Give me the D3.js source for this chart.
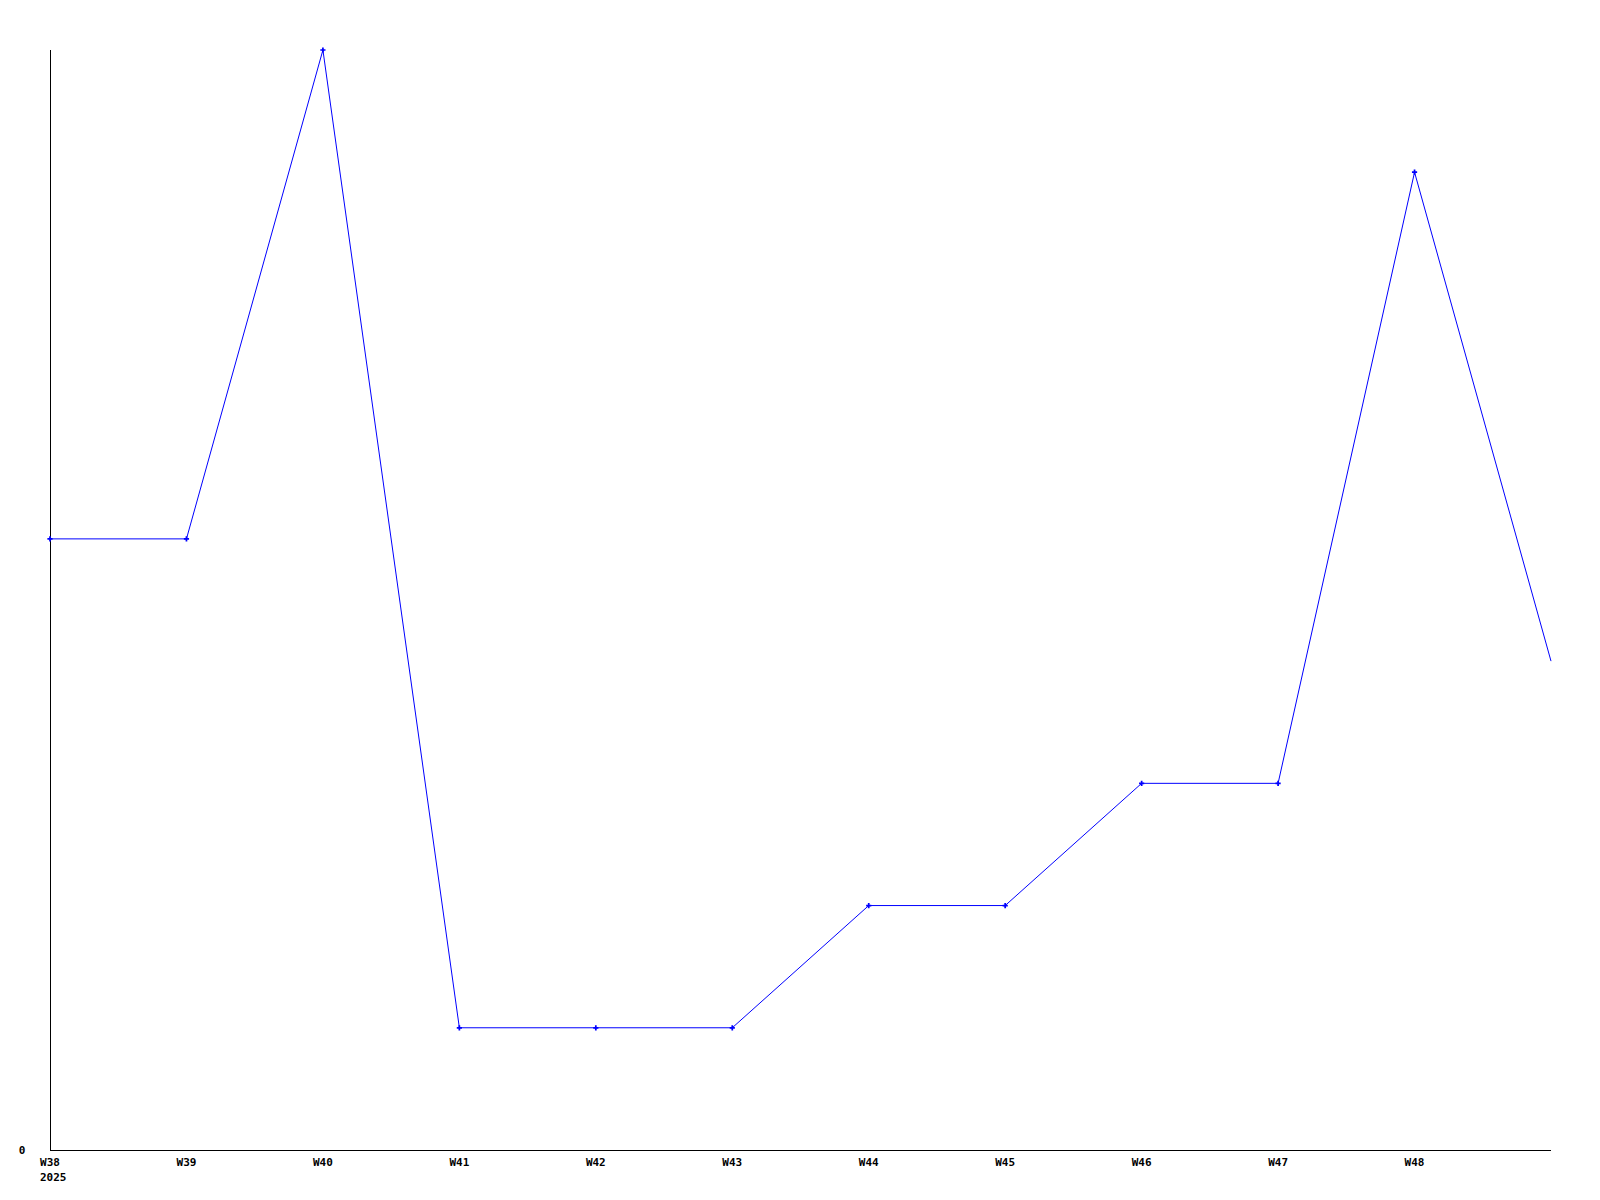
<!DOCTYPE html>
<html><head><meta charset="utf-8">
<script src="https://cdn.jsdelivr.net/npm/d3@7"></script>
<style>html,body{margin:0;padding:0;background:#fff;}svg{display:block;}</style>
</head><body>
<svg id="c" width="1600" height="1200"></svg>
<script>
const weeks = ["W38","W39","W40","W41","W42","W43","W44","W45","W46","W47","W48","W49"];
const tickLabels = ["W38","W39","W40","W41","W42","W43","W44","W45","W46","W47","W48"];
const values = [5,5,9,1,1,1,2,2,3,3,8,4];
const yearLabel = "2025";
const yTicks = [0];

(function(){
const svg = d3.select("#c");
const mLeft = 50, mRight = 1551, mTop = 50, mBottom = 1150;
const x = d3.scalePoint().domain(weeks).range([mLeft, mRight]);
const y = d3.scaleLinear().domain([0, 9]).range([mBottom, mTop]);
const font = "'DejaVu Sans Mono', monospace";

svg.append("line").attr("x1", mLeft+0.5).attr("x2", mLeft+0.5).attr("y1", mTop).attr("y2", mBottom+0.5)
  .attr("stroke", "#000").attr("stroke-width", 1);
svg.append("line").attr("x1", mLeft).attr("x2", mRight).attr("y1", mBottom+0.5).attr("y2", mBottom+0.5)
  .attr("stroke", "#000").attr("stroke-width", 1);

svg.selectAll(".yt").data(yTicks).enter().append("text")
  .attr("x", 22).attr("y", d => y(d) + 4)
  .attr("text-anchor", "middle").attr("font-family", font).attr("font-weight", "bold")
  .attr("font-size", 11).text(d => d);

svg.selectAll(".xt").data(tickLabels).enter().append("text")
  .attr("x", d => x(d)).attr("y", mBottom + 16)
  .attr("text-anchor", "middle").attr("font-family", font).attr("font-weight", "bold")
  .attr("font-size", 11).text(d => d);
svg.append("text").attr("x", x(weeks[0]) - 10).attr("y", mBottom + 31)
  .attr("font-family", font).attr("font-weight", "bold").attr("font-size", 11).text(yearLabel);

const line = d3.line().x((d,i) => x(weeks[i])).y(d => y(d));
svg.append("path").datum(values).attr("d", line).attr("fill", "none")
  .attr("stroke", "#0000ff").attr("stroke-width", 1);

svg.selectAll(".m").data(values.slice(0, tickLabels.length)).enter().append("path")
  .attr("transform", (d,i) => `translate(${x(weeks[i])},${y(d)})`)
  .attr("d", d3.symbol().type(d3.symbolCross).size(15)).attr("fill", "#0000ff");
})();
</script>
</body></html>
